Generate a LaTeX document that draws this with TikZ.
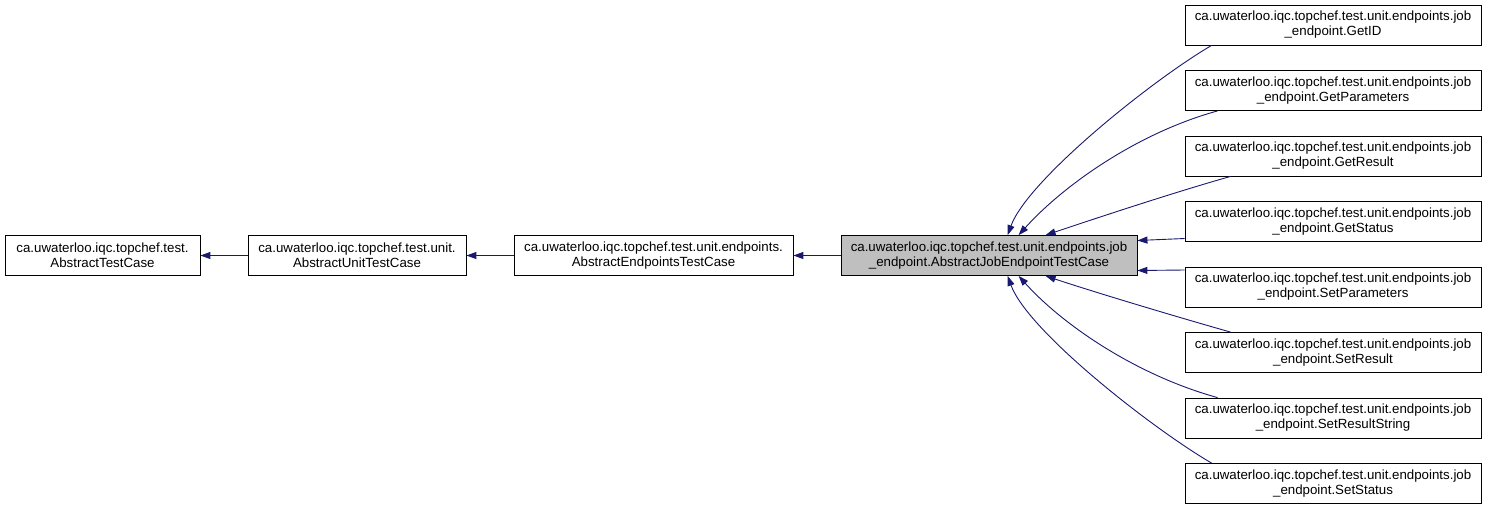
\documentclass[tikz,border=0pt]{standalone}
\usepackage{fontspec}
\setmainfont{Liberation Sans}
\usepackage{xcolor}
\usepackage{tikz}
\usetikzlibrary{arrows.meta,positioning}

\definecolor{edgeblue}{RGB}{25,25,112}
\definecolor{cellgray}{RGB}{191,191,191}

\begin{document}
\begin{tikzpicture}[
    x=1pt, y=-1pt,
    cls/.style={draw, rectangle, line width=0.8pt, inner sep=0pt, minimum height=40pt, align=center, font=\fontsize{13.3}{15}\selectfont},
    sub/.style={cls, minimum width=296pt},
    arr/.style={-{Triangle[length=10pt, width=7pt]}, edgeblue, line width=0.9pt}
]
    \useasboundingbox (0,0) rectangle (1487,509);

    % Base chain
    \node[cls, minimum width=195pt] (testcase) at (102.5,255.5) {ca.uwaterloo.iqc.topchef.test.\\AbstractTestCase};
    \node[cls, minimum width=218pt] (unitcase) at (357,255.5) {ca.uwaterloo.iqc.topchef.test.unit.\\AbstractUnitTestCase};
    \node[cls, minimum width=279pt] (endpointscase) at (653.5,255.5) {ca.uwaterloo.iqc.topchef.test.unit.endpoints.\\AbstractEndpointsTestCase};
    \node[cls, minimum width=296pt, fill=cellgray] (jobcase) at (989,255.5) {ca.uwaterloo.iqc.topchef.test.unit.endpoints.job\\\_endpoint.AbstractJobEndpointTestCase};

    % Subclasses
    \node[sub] (getid) at (1333,25) {ca.uwaterloo.iqc.topchef.test.unit.endpoints.job\\\_endpoint.GetID};
    \node[sub] (getparams) at (1333,90.5) {ca.uwaterloo.iqc.topchef.test.unit.endpoints.job\\\_endpoint.GetParameters};
    \node[sub] (getresult) at (1333,156) {ca.uwaterloo.iqc.topchef.test.unit.endpoints.job\\\_endpoint.GetResult};
    \node[sub] (getstatus) at (1333,221.5) {ca.uwaterloo.iqc.topchef.test.unit.endpoints.job\\\_endpoint.GetStatus};
    \node[sub] (setparams) at (1333,287) {ca.uwaterloo.iqc.topchef.test.unit.endpoints.job\\\_endpoint.SetParameters};
    \node[sub] (setresult) at (1333,352.5) {ca.uwaterloo.iqc.topchef.test.unit.endpoints.job\\\_endpoint.SetResult};
    \node[sub] (setresultstr) at (1333,418) {ca.uwaterloo.iqc.topchef.test.unit.endpoints.job\\\_endpoint.SetResultString};
    \node[sub] (setstatus) at (1333,483.5) {ca.uwaterloo.iqc.topchef.test.unit.endpoints.job\\\_endpoint.SetStatus};

    % Inheritance arrows
    \draw[arr] (unitcase) -- (testcase);
    \draw[arr] (endpointscase) -- (unitcase);
    \draw[arr] (jobcase) -- (endpointscase);

    \draw[arr] ([xshift=27pt]getid.south west) .. controls +(-60,35) and +(20,-55) .. ([xshift=167pt]jobcase.north west);
    \draw[arr] ([xshift=33pt]getparams.south west) .. controls +(-80,22) and +(45,-50) .. ([xshift=178pt]jobcase.north west);
    \draw[arr] ([xshift=46pt]getresult.south west) .. controls +(-60,17) and +(45,-15) .. ([xshift=205pt]jobcase.north west);
    \draw[arr] ([yshift=-17pt]getstatus.west) -- ([yshift=15pt]jobcase.east);
    \draw[arr] ([yshift=17pt]setparams.west) -- ([yshift=-15pt]jobcase.east);
    \draw[arr] ([xshift=46pt]setresult.north west) .. controls +(-60,-17) and +(45,15) .. ([xshift=205pt]jobcase.south west);
    \draw[arr] ([xshift=33pt]setresultstr.north west) .. controls +(-80,-22) and +(45,50) .. ([xshift=178pt]jobcase.south west);
    \draw[arr] ([xshift=27pt]setstatus.north west) .. controls +(-60,-35) and +(20,55) .. ([xshift=167pt]jobcase.south west);
\end{tikzpicture}
\end{document}
